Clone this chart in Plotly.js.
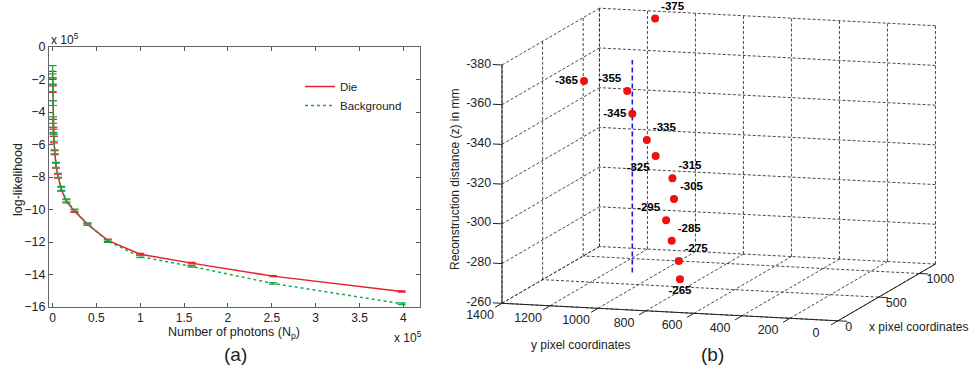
<!DOCTYPE html>
<html>
<head>
<meta charset="utf-8">
<script src="https://cdn.plot.ly/plotly-3.0.1.min.js"></script>
<style>html,body{margin:0;padding:0;background:#fff;}#chart{width:971px;height:368px;}</style>
</head>
<body>
<div id="chart"></div>
<script>
// ---------- Panel (a): log-likelihood vs number of photons (both in units of 1e5) ----------
const photons = [0.001, 0.0016, 0.0025, 0.004, 0.0063, 0.01, 0.016, 0.025, 0.04, 0.063, 0.1, 0.158, 0.251, 0.398, 0.631, 1.0, 1.585, 2.512, 3.981];
const dieLL   = [-1.75, -2.1, -2.6, -3.45, -4.7, -5.2, -5.7, -6.5, -7.3, -7.95, -8.75, -9.5, -10.1, -10.9, -11.9, -12.75, -13.3, -14.1, -15.05];
const bgLL    = [-1.4, -2.1, -2.55, -3.45, -4.5, -5.1, -5.6, -6.45, -7.25, -7.9, -8.7, -9.45, -10.05, -10.9, -11.95, -12.9, -13.5, -14.55, -15.8];
const dieErr  = [0.25, 0.2, 0.2, 0.15, 0.25, 0.15, 0.2, 0.12, 0.15, 0.12, 0.12, 0.1, 0.08, 0.06, 0.08, 0.05, 0.05, 0.04, 0.04];
const bgErr   = [0.25, 0.2, 0.2, 0.15, 0.2, 0.15, 0.2, 0.12, 0.15, 0.12, 0.12, 0.1, 0.08, 0.06, 0.08, 0.06, 0.05, 0.05, 0.05];
const xTicksA = [0, 0.5, 1, 1.5, 2, 2.5, 3, 3.5, 4];
const yTicksA = [0, -2, -4, -6, -8, -10, -12, -14, -16];

// ---------- Panel (b): 3D reconstruction positions ----------
const zDist  = [-375, -365, -355, -345, -335, -325, -315, -305, -295, -285, -275, -265];
const xPix   = [1250, 351, 585, 535, 424, 509, 479, 463, 428, 423, 421, 454];
const yPix   = [1185, 1177, 1076, 1038, 940, 932, 852, 840, 861, 836, 806, 812];
const labelPos = ['top right','middle left','top left','middle left','top right','bottom left','top right','top right','top left','top right','top right','bottom center'];
const refLineX = [535, 535];
const refLineY = [1038, 1038];
const refLineZ = [-265, -372];
const xTicksB = [0, 500, 1000];
const yTicksB = [0, 200, 400, 600, 800, 1000, 1200, 1400];
const zTicksB = [-380, -360, -340, -320, -300, -280, -260];
const xLim = [0, 1200], yLim = [0, 1400], zLim = [-260, -380];

// Orthographic view of the 3D box (WebGL is not available, so the view is projected here
// and drawn on a hidden 2D axis whose units are page pixels).
const VIEW = {ox: 838, oy: 320.8, ux: [0.0812, -0.0473], uy: [-0.24, -0.0125], uz: 1.986};
function proj(x, y, z) {
  return [VIEW.ox + VIEW.ux[0] * x + VIEW.uy[0] * y,
          VIEW.oy + VIEW.ux[1] * x + VIEW.uy[1] * y - VIEW.uz * (zLim[0] - z)];
}
function segs(list) { // list of [[x,y,z],[x,y,z]] -> polyline arrays with gaps
  const X = [], Y = [];
  list.forEach(s => { const a = proj(...s[0]), b = proj(...s[1]); X.push(a[0], b[0], null); Y.push(a[1], b[1], null); });
  return {x: X, y: Y};
}

const FONT = 'Liberation Sans, Arial, sans-serif';
const W = 971, H = 368;
const px = v => v / W, py = v => (H - v) / H;

// grid segments on the three back planes
const grid = [];
yTicksB.forEach(y => grid.push([[xLim[1], y, zLim[0]], [xLim[1], y, zLim[1]]]));
zTicksB.forEach(z => grid.push([[xLim[1], yLim[0], z], [xLim[1], yLim[1], z]]));
zTicksB.forEach(z => grid.push([[xLim[0], yLim[1], z], [xLim[1], yLim[1], z]]));
xTicksB.concat([xLim[1]]).forEach(x => grid.push([[x, yLim[1], zLim[0]], [x, yLim[1], zLim[1]]]));
yTicksB.forEach(y => grid.push([[xLim[0], y, zLim[0]], [xLim[1], y, zLim[0]]]));
xTicksB.forEach(x => grid.push([[x, yLim[0], zLim[0]], [x, yLim[1], zLim[0]]]));
const gridXY = segs(grid);

// solid axes and tick marks
const axes = [
  [[0, yLim[1], zLim[0]], [0, yLim[1], zLim[1]]],
  [[0, yLim[0], zLim[0]], [0, yLim[1], zLim[0]]],
  [[xLim[0], 0, zLim[0]], [xLim[1], 0, zLim[0]]]
];
zTicksB.forEach(z => axes.push([[0, yLim[1], z], [0, yLim[1] + 38, z]]));
yTicksB.forEach(y => axes.push([[0, y, zLim[0]], [-85, y, zLim[0]]]));
xTicksB.forEach(x => axes.push([[x, 0, zLim[0]], [x, -38, zLim[0]]]));
const axesXY = segs(axes);

const zLab = zTicksB.map(z => proj(0, yLim[1] + 45, z));
const yLab = yTicksB.map(y => proj(-270, y, zLim[0]));
const xLab = xTicksB.map(x => proj(x, -30, zLim[0]));
const ptsXY = zDist.map((z, i) => proj(xPix[i], yPix[i], z));
const lineXY = refLineZ.map((z, i) => proj(refLineX[i], refLineY[i], z));

const tickFont = {family: FONT, size: 12.5, color: '#222'};
const on3 = {xaxis: 'x2', yaxis: 'y2', showlegend: false, hoverinfo: 'skip', cliponaxis: false};

const traces = [
  {x: photons, y: dieLL, type: 'scatter', mode: 'lines', name: 'Die',
    line: {color: '#e8202a', width: 1.5},
    error_y: {type: 'data', array: dieErr, color: '#e8202a', thickness: 1.2, width: 4}},
  {x: photons, y: bgLL, type: 'scatter', mode: 'lines', name: 'Background',
    line: {color: '#1aa64a', width: 1.5, dash: 'dot'},
    error_y: {type: 'data', array: bgErr, color: '#1aa64a', thickness: 1.2, width: 4}},
  Object.assign({type: 'scatter', mode: 'lines', x: gridXY.x, y: gridXY.y,
    line: {color: '#333', width: 0.9, dash: '3px,2px'}, connectgaps: false}, on3),
  Object.assign({type: 'scatter', mode: 'lines', x: axesXY.x, y: axesXY.y,
    line: {color: '#222', width: 1}, connectgaps: false}, on3),
  Object.assign({type: 'scatter', mode: 'text', x: zLab.map(p => p[0]), y: zLab.map(p => p[1]),
    text: zTicksB.map(String), textposition: 'middle left', textfont: tickFont}, on3),
  Object.assign({type: 'scatter', mode: 'text', x: yLab.map(p => p[0]), y: yLab.map(p => p[1]),
    text: yTicksB.map(String), textposition: 'middle center', textfont: tickFont}, on3),
  Object.assign({type: 'scatter', mode: 'text', x: xLab.map(p => p[0]), y: xLab.map(p => p[1]),
    text: xTicksB.map(String), textposition: 'bottom right', textfont: tickFont}, on3),
  Object.assign({type: 'scatter', mode: 'lines', x: lineXY.map(p => p[0]), y: lineXY.map(p => p[1]),
    line: {color: '#1a1adb', width: 1.6, dash: '5px,3px'}}, on3),
  Object.assign({type: 'scatter', mode: 'markers+text', x: ptsXY.map(p => p[0]), y: ptsXY.map(p => p[1]),
    text: zDist.map(String), textposition: labelPos,
    textfont: {family: FONT, size: 11.5, color: '#000', weight: 'bold'},
    marker: {color: '#f01010', size: 8, line: {width: 0}}}, on3)
];

const ann = (text, x, y, size, extra) => Object.assign({
  text: text, x: px(x), y: py(y), xref: 'paper', yref: 'paper', showarrow: false,
  xanchor: 'center', yanchor: 'middle', font: {family: FONT, size: size, color: '#222'}
}, extra || {});

const layout = {
  width: W, height: H,
  margin: {l: 0, r: 0, t: 0, b: 0},
  paper_bgcolor: '#fff', plot_bgcolor: 'rgba(0,0,0,0)',
  font: {family: FONT, size: 12, color: '#222'},
  showlegend: true,
  legend: {x: px(300), y: py(72), xanchor: 'left', yanchor: 'top', bgcolor: 'rgba(0,0,0,0)',
           font: {family: FONT, size: 11.5, color: '#222'}, tracegroupgap: 0, itemwidth: 30},
  xaxis: {
    domain: [px(49), px(420)], range: [-0.04, 4.19], tickvals: xTicksA,
    ticks: 'inside', ticklen: 4, tickcolor: '#555', mirror: 'ticks',
    showline: true, linecolor: '#666', linewidth: 1, showgrid: false, zeroline: false,
    tickfont: {family: FONT, size: 12, color: '#222'}, anchor: 'y'
  },
  yaxis: {
    domain: [py(307), py(47)], range: [-16, 0], tickvals: yTicksA,
    ticks: 'inside', ticklen: 4, tickcolor: '#555', mirror: 'ticks',
    showline: true, linecolor: '#666', linewidth: 1, showgrid: false, zeroline: false,
    tickfont: tickFont, anchor: 'x'
  },
  xaxis2: {domain: [px(447), 1], range: [447, 971], visible: false, fixedrange: true, anchor: 'y2'},
  yaxis2: {domain: [0, 1], range: [368, 0], visible: false, fixedrange: true, anchor: 'x2'},
  annotations: [
    ann('log-likelihood', 18, 180, 12.5, {textangle: -90}),
    ann('Number of photons (N<sub>p</sub>)', 234, 333, 12.5),
    ann('x 10<sup>5</sup>', 49, 39, 12, {xanchor: 'left'}),
    ann('x 10<sup>5</sup>', 392, 337, 12, {xanchor: 'left'}),
    ann('(a)', 235, 354, 19),
    ann('(b)', 712, 354, 19),
    ann('Reconstruction distance (z) in mm', 455, 180, 12, {textangle: -90}),
    ann('y pixel coordinates', 580, 345, 12),
    ann('x pixel coordinates', 970, 327, 12, {xanchor: 'right'})
  ]
};

Plotly.newPlot('chart', traces, layout, {displayModeBar: false, staticPlot: true});
</script>
</body>
</html>
